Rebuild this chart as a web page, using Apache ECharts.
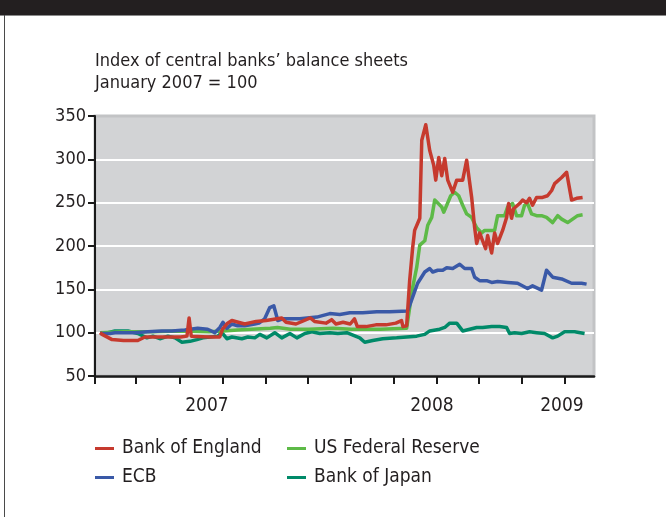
<!DOCTYPE html>
<html>
<head>
<meta charset="utf-8">
<script src="https://cdn.jsdelivr.net/npm/echarts@6/dist/echarts.min.js"></script>
<style>
html,body{margin:0;padding:0;background:#fff;}
#chart{width:666px;height:517px;}
</style>
</head>
<body>
<div id="chart"></div>
<script>
// x = months since start of the axis (axis runs 0..35), y = index (Jan 2007 = 100)
var seriesNames = ['Bank of England', 'ECB', 'US Federal Reserve', 'Bank of Japan'];

var bankOfEngland = [[0.35,100],[0.5,98],[1.2,92],[2.0,91],[3.0,91],[3.5,95],[4.5,95],[6.0,95],[6.45,96],[6.6,117],[6.75,96],[8.0,95],[8.75,95],[8.95,104],[9.3,111],[9.6,114],[10.5,110],[11.3,113],[12.0,114],[13.1,117],[13.4,112],[14.1,110],[15.1,117],[15.4,113],[16.2,111],[16.6,115],[16.9,110],[17.4,112],[17.9,110],[18.2,116],[18.4,107],[19.0,107],[19.7,109],[20.4,109],[21.1,111],[21.5,114],[21.6,107],[21.86,108],[22.07,160],[22.28,198],[22.42,218],[22.78,232],[22.92,322],[23.2,340],[23.34,340],[23.48,310],[23.76,293],[23.9,276],[24.11,302],[24.32,281],[24.53,301],[24.74,276],[25.09,262],[25.37,276],[25.79,276],[26.07,299],[26.42,256],[26.63,221],[26.77,203],[26.98,215],[27.19,206],[27.4,197],[27.54,212],[27.82,192],[28.03,215],[28.24,203],[28.59,218],[28.87,233],[29.01,249],[29.22,232],[29.36,243],[29.78,249],[29.99,253],[30.27,250],[30.48,255],[30.69,247],[30.97,256],[31.39,256],[31.74,258],[32.03,264],[32.24,272],[32.73,279],[33.08,285],[33.22,286],[33.43,253],[33.78,255],[34.2,256]];

var ecb = [[0.35,99],[1.05,99],[1.4,100],[2.8,100],[3.7,101],[4.7,102],[5.4,102],[6.3,103],[7.2,105],[7.9,104],[8.4,100],[8.76,106],[8.97,112],[9.25,105],[9.6,110],[10.0,108],[10.5,108],[11.2,110],[11.5,111],[11.9,116],[12.26,129],[12.54,131],[12.82,114],[13.17,116],[14.37,116],[15.56,118],[16.47,122],[17.17,121],[17.87,123],[18.78,123],[19.76,124],[20.67,124],[21.93,125],[22.28,141],[22.63,157],[23.13,170],[23.48,174],[23.69,170],[24.04,172],[24.39,172],[24.67,175],[25.09,174],[25.58,179],[25.93,174],[26.42,174],[26.63,164],[26.98,160],[27.47,160],[27.82,158],[28.24,159],[28.94,158],[29.64,157],[30.34,151],[30.69,154],[31.32,149],[31.67,172],[32.1,164],[32.73,162],[33.43,157],[34.13,157],[34.48,156]];

var usFederalReserve = [[0.35,100],[2.0,101],[4.0,101],[6.0,102],[8.0,101],[9.0,102],[10.0,103],[12.3,105],[12.8,106],[13.7,104],[15.0,104],[16.7,105],[18.0,104],[20.0,104],[21.86,105],[22.28,152],[22.56,175],[22.78,201],[23.13,206],[23.34,224],[23.62,233],[23.83,253],[23.97,253],[24.32,245],[24.46,239],[24.67,247],[24.95,258],[25.23,262],[25.51,258],[25.79,247],[26.07,237],[26.42,233],[26.77,221],[27.12,215],[27.33,218],[27.68,218],[28.03,218],[28.24,235],[28.73,235],[28.94,245],[29.29,249],[29.57,235],[29.92,235],[30.13,247],[30.34,249],[30.62,237],[30.97,235],[31.32,235],[31.67,233],[32.1,227],[32.45,235],[32.73,231],[33.15,227],[33.5,231],[33.85,235],[34.2,236]];

var bankOfJapan = [[0.35,100],[0.91,100],[1.4,102],[2.31,102],[3.01,99],[3.64,94],[4.06,96],[4.55,93],[5.12,96],[5.61,94],[6.1,89],[6.66,90],[7.15,92],[7.57,94],[8.06,95],[8.62,96],[8.9,100],[9.25,93],[9.6,95],[10.3,93],[10.72,95],[11.21,94],[11.56,98],[12.05,94],[12.61,100],[13.1,94],[13.67,99],[14.16,94],[14.72,99],[15.21,101],[15.77,99],[16.47,100],[17.03,99],[17.66,100],[18.57,94],[18.92,89],[19.48,91],[20.18,93],[21.16,94],[21.86,95],[22.56,96],[23.13,98],[23.48,102],[24.18,104],[24.53,106],[24.88,111],[25.37,111],[25.79,102],[26.28,104],[26.77,106],[27.19,106],[27.82,107],[28.38,107],[28.87,106],[29.08,99],[29.43,100],[29.92,99],[30.48,101],[30.97,100],[31.53,99],[32.1,94],[32.45,96],[32.94,101],[33.64,101],[34.34,99]];

var tickMonths = [0, 2.85, 5.95, 8.95, 11.95, 14.95, 17.95, 20.95, 23.95, 26.95, 29.95, 32.95];
var yearLabelMonths = [7.85, 23.63, 32.75];
var yearLabels = ['2007', '2008', '2009'];

var colors = {
  'Bank of England': '#c63a2e',
  'ECB': '#3a59a7',
  'US Federal Reserve': '#5dba47',
  'Bank of Japan': '#008a69'
};

var FONT = "'Liberation Sans Narrow','DejaVu Sans Condensed','Arial Narrow',sans-serif";
var TXT = '#231f20';

function mkSeries(name, data, z) {
  return {
    name: name, type: 'line', data: data, showSymbol: false, symbol: 'none',
    z: z, lineStyle: {color: colors[name], width: 3.5, join: 'round'},
    itemStyle: {color: colors[name]}, animation: false
  };
}

var chart = echarts.init(document.getElementById('chart'), null, {renderer: 'canvas'});
chart.setOption({
  animation: false,
  backgroundColor: '#ffffff',
  textStyle: {fontFamily: FONT, color: TXT},
  graphic: [
    {type: 'rect', shape: {x: 0, y: 0, width: 666, height: 15}, style: {fill: '#231f20'}},
    {type: 'rect', shape: {x: 0, y: 15, width: 666, height: 1}, style: {fill: '#8a8a8a'}},
    {type: 'line', shape: {x1: 4.5, y1: 15, x2: 4.5, y2: 517}, style: {stroke: '#4a4a4a', lineWidth: 1}}
  ],
  title: {
    text: 'Index of central banks\u2019 balance sheets\nJanuary 2007 = 100',
    left: 95, top: 50, padding: 0,
    textStyle: {fontFamily: FONT, fontSize: 18, fontWeight: 'normal', color: TXT, lineHeight: 22}
  },
  legend: [
    {
      orient: 'vertical', left: 95, top: 439, itemGap: 10, padding: 0,
      itemWidth: 19, itemHeight: 3, icon: 'rect',
      data: ['Bank of England', 'ECB'],
      textStyle: {fontFamily: FONT, fontSize: 19, color: TXT, padding: [0, 0, 0, 3]},
      selectedMode: false
    },
    {
      orient: 'vertical', left: 287, top: 439, itemGap: 10, padding: 0,
      itemWidth: 19, itemHeight: 3, icon: 'rect',
      data: ['US Federal Reserve', 'Bank of Japan'],
      textStyle: {fontFamily: FONT, fontSize: 19, color: TXT, padding: [0, 0, 0, 3]},
      selectedMode: false
    }
  ],
  grid: {
    left: 95, right: 72, top: 116, bottom: 141,
    show: true, backgroundColor: '#d2d3d5', borderColor: '#c2c3c5', borderWidth: 3,
    containLabel: false
  },
  xAxis: {
    type: 'value', min: 0, max: 35,
    axisLine: {show: true, onZero: false, lineStyle: {color: '#1a1a1a', width: 2.5}},
    axisTick: {show: true, customValues: tickMonths, length: 8, lineStyle: {color: '#1a1a1a', width: 2}},
    axisLabel: {
      customValues: yearLabelMonths, margin: 21,
      fontFamily: FONT, fontSize: 19, color: TXT,
      formatter: function (v) {
        var best = 0;
        for (var i = 1; i < yearLabelMonths.length; i++) {
          if (Math.abs(yearLabelMonths[i] - v) < Math.abs(yearLabelMonths[best] - v)) best = i;
        }
        return yearLabels[best];
      }
    },
    splitLine: {show: false}
  },
  yAxis: {
    type: 'value', min: 50, max: 350, interval: 50,
    axisLine: {show: true, onZero: false, lineStyle: {color: '#1a1a1a', width: 2}},
    axisTick: {show: true, length: 7, lineStyle: {color: '#1a1a1a', width: 2}},
    axisLabel: {margin: 9, fontFamily: FONT, fontSize: 18, color: TXT},
    splitLine: {show: true, lineStyle: {color: ['#d2d3d5', '#ffffff', '#ffffff', '#ffffff', '#ffffff', '#ffffff', '#c2c3c5'], width: 2}}
  },
  series: [
    mkSeries('Bank of Japan', bankOfJapan, 2),
    mkSeries('US Federal Reserve', usFederalReserve, 3),
    mkSeries('ECB', ecb, 4),
    mkSeries('Bank of England', bankOfEngland, 5)
  ]
});
</script>
</body>
</html>
